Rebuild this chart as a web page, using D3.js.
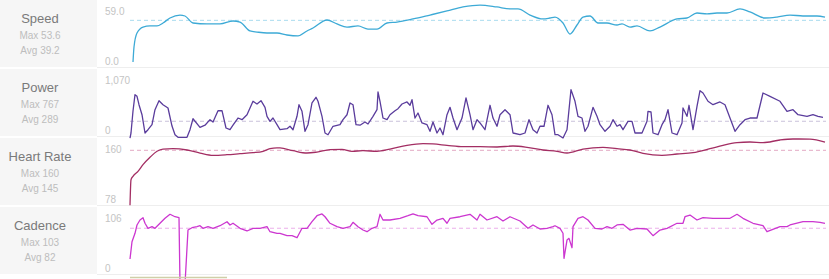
<!DOCTYPE html>
<html>
<head>
<meta charset="utf-8">
<script src="https://cdn.jsdelivr.net/npm/d3@7"></script>
<style>
  body { margin: 0; background: #fff; font-family: "Liberation Sans", Arial, sans-serif; }
  #chart { width: 829px; height: 279px; }
</style>
</head>
<body>
<div id="chart"></div>
<script>
// panel labels and summary stats
const metrics = ["Speed", "Power", "Heart Rate", "Cadence"];
const maxLabels = ["53.6", "767", "160", "103"];
const avgValues = [39.2, 289, 145, 82];
const tickTop = ["59.0", "1,070", "160", "106"];
const tickBottom = ["0.0", "0", "78", "0"];
const domains = [[0, 59], [0, 1070], [78, 160], [0, 106]];

// distance (km) / value readings
const speedDist = [0.3,0.4,0.7,1.3,2.0,2.7,3.3,4.0,5.0,5.5,6.3,7.7,9.0,10.3,11.0,12.0,12.7,13.7,14.7,15.7,16.8,17.7,18.3,19.7,20.7,21.7,22.8,23.8,24.7,25.7,26.7,28.3,30.0,31.7,33.3,35.0,36.7,38.0,38.8,40.0,41.3,42.0,42.5,43.3,44.0,44.7,45.3,46.0,46.8,47.7,48.7,49.2,50.0,50.7,52.0,53.0,54.7,55.7,56.7,57.7,58.7,59.7,61.0,62.0,63.5,64.7,66.0,67.3,68.7,69.5];
const speedVals = [0,14.1,27.3,32.9,33.9,33.9,36.7,41.4,44.2,43.3,36.7,35.8,35.8,38.6,37.6,29.2,28.2,27.3,27.3,25.4,24.5,29.2,32.0,39.5,35.8,32.9,33.9,31.0,31.0,36.7,37.6,40.5,44.2,48.0,51.8,53.6,51.8,50.0,50.0,44.2,40.5,41.4,42.3,36.7,26.3,34.8,42.3,43.3,36.7,36.7,34.8,35.8,32.9,33.9,29.2,32.9,40.5,41.4,46.1,45.2,46.1,46.1,49.9,47.1,41.4,42.3,44.2,43.3,43.3,42.3];

const powerDist = [0,0.1,0.3,0.5,0.7,0.9,1.2,1.5,1.8,2.2,2.5,2.9,3.3,3.8,4.2,4.5,4.8,5.7,6.0,6.3,7.0,7.5,8.0,8.3,8.8,9.2,9.6,10.0,10.3,10.8,11.2,11.7,12.0,12.3,12.7,13.1,13.5,13.7,14.0,14.3,14.7,15.0,15.7,16.0,16.3,16.7,16.9,17.2,17.5,17.8,18.2,18.6,18.8,19.2,19.5,19.8,20.3,21.0,21.3,21.7,22.0,22.3,22.6,23.0,23.5,23.8,24.3,24.7,24.8,25.0,25.3,25.7,26.0,26.5,26.8,27.2,27.7,28.0,28.2,28.5,28.8,29.2,29.7,30.0,30.3,30.7,31.0,31.3,31.7,32.0,32.3,32.7,33.2,33.6,34.0,34.3,34.7,35.0,35.5,36.0,36.3,36.7,37.0,37.5,38.0,38.3,39.0,39.5,39.9,40.3,40.7,41.0,41.4,41.8,42.2,42.5,42.8,43.3,43.7,44.1,44.5,44.8,45.2,45.5,45.8,46.3,46.7,47.0,47.5,48.0,48.3,48.7,49.0,49.3,49.8,50.2,50.5,51.2,51.7,51.8,52.1,52.3,52.8,53.2,53.5,53.8,54.2,54.7,55.2,55.3,55.7,55.9,56.3,56.7,57.0,57.3,57.8,58.3,59.0,59.5,60.0,60.5,61.0,61.5,62.0,62.7,63.3,64.0,65.0,65.7,66.3,66.8,67.7,68.3,68.8,69.3];
const powerVals = [25,104,451,708,682,550,392,104,156,235,471,613,550,498,214,77,36,36,156,329,194,227,314,277,455,455,183,156,227,340,314,392,498,604,561,613,509,367,288,340,235,156,172,210,156,367,550,446,131,235,577,667,604,367,104,77,210,235,314,392,577,550,235,227,277,246,367,471,750,604,340,314,392,455,487,561,593,541,629,340,419,262,235,131,277,104,183,77,392,509,340,156,340,656,392,156,314,262,156,541,340,210,392,471,392,104,77,104,314,156,104,210,210,541,392,77,77,25,156,787,604,367,340,131,210,509,367,235,131,210,314,210,235,156,288,288,104,104,288,446,435,104,77,235,314,471,104,77,262,498,367,541,156,525,770,734,604,550,593,550,340,131,235,314,340,340,734,682,604,446,471,392,367,392,367,351];

const hrDist = [0,0.1,0.3,0.8,1.3,2.0,2.7,3.3,4.3,5.7,7.0,8.3,9.7,11.0,12.3,13.3,14.0,14.7,15.0,16.3,17.7,18.7,20.0,21.2,22.2,23.3,24.7,26.0,27.7,29.3,30.3,31.7,33.3,35.0,36.7,38.3,39.7,41.3,42.7,43.7,45.3,47.3,48.7,50.0,51.3,53.2,54.7,56.3,58.0,59.3,60.7,62.0,63.3,65.0,66.3,68.0,69.5];
const hrVals = [72,106,110.5,117.1,125.9,135.7,143.7,146.7,147.1,145.4,141.4,138.4,139.2,140.5,141.8,143.7,147.1,148.1,148.1,144.5,141.4,142.7,145.8,146.3,143.7,144.5,143.7,146.7,151.6,153.8,153.4,151.6,149.8,149.8,149.4,150.7,149.0,145.4,143.7,141.4,146.7,149.0,147.1,145.4,141.0,138.4,140.1,141.8,147.1,151.6,155.1,156.0,155.1,158.7,160.0,159.8,156.0];

const cadDist = [0,0.2,0.5,0.7,1.0,1.3,1.5,1.8,2.2,2.5,3.0,3.5,4.0,4.5,4.9,5.0,5.5,5.8,6.2,6.7,7.0,7.3,7.8,8.3,9.0,9.7,10.0,10.3,11.0,11.7,12.3,13.0,13.7,14.0,14.7,15.0,15.7,16.2,16.7,17.2,17.7,18.2,18.7,19.2,19.5,20.0,20.7,21.3,22.0,22.3,22.8,23.3,23.7,24.2,24.7,25.0,25.3,26.0,27.0,27.8,28.3,28.8,29.7,30.2,30.7,31.3,31.7,32.0,33.0,34.0,34.7,35.0,35.7,36.7,37.3,38.0,39.0,39.8,40.3,41.0,41.7,42.3,42.5,43.0,43.3,43.4,43.7,43.9,44.2,44.3,44.8,45.3,45.8,46.5,47.2,47.7,48.2,48.7,49.3,50.0,50.7,51.7,52.3,53.0,53.7,54.7,55.3,55.5,56.0,56.7,57.3,58.3,59.3,60.0,60.7,61.3,62.3,63.3,63.7,65.0,65.7,66.0,67.3,68.3,69.0,69.5];
const cadVals = [36.8,62.2,74.6,86.8,94.1,97.5,89.3,81.9,84.3,81.9,89.3,96.6,102.5,98.9,97.5,0,0,79.4,82.8,84.3,85.7,81.9,84.3,81.9,85.7,91.6,86.8,89.3,81.9,78.0,81.9,81.9,84.3,76.9,74.6,74.6,71.1,71.1,68.1,81.9,81.9,91.6,100.4,103,98.9,89.3,84.3,81.9,84.3,90.7,84.3,79.4,76.9,81.9,84.3,102.5,94.1,94.1,96.6,100.4,103,100.4,98.9,87.8,94.1,96.6,89.3,96.6,98.9,102.5,94.1,102.5,94.1,98.9,92.6,98.9,92.6,81.9,86.8,80.9,81.9,84.3,85.7,81.9,74.6,37.9,64.7,67.2,53.4,84.3,96.6,98.9,94.1,81.9,80.9,84.3,81.9,86.8,87.8,79.4,81.9,80.9,71.1,79.4,81.9,89.3,89.3,98.9,101.4,94.1,97.5,96.6,96.6,96.6,102.5,96.6,89.3,85.7,76.9,84.3,84.3,86.8,91.6,91.6,90.7,89.3,94.1];

const selectionEnd = 9.7;

const seriesDist = [speedDist, powerDist, hrDist, cadDist];
const seriesVals = [speedVals, powerVals, hrVals, cadVals];

// layout / style
const lineColors = ["#3daad6", "#5a3c9c", "#a32e63", "#cc36d0"];
const avgColors = ["#a9dbee", "#c9c1da", "#e3a9c3", "#ebaeea"];
const curves = [d3.curveMonotoneX, d3.curveLinear, d3.curveMonotoneX, d3.curveLinear];
// pixel range of each panel's value scale, relative to row top [bottom, top]
const panelRange = [[62, -0.7], [70.6, 2.7], [62.8, 1.0], [77.1, 4.9]];

function renderActivity() {
  const container = d3.select("#chart");
  const width = 829, height = 279;
  const rowH = 69, sideW = 97;

  const svg = container.append("svg").attr("width", width).attr("height", height);

  const x = d3.scaleLinear().domain([0, 69.6]).range([130, 826]);

  metrics.forEach((name, i) => {
    const top = i * rowH;
    const g = svg.append("g").attr("transform", `translate(0,${top})`);

    g.append("rect")
      .attr("x", 0).attr("y", 0)
      .attr("width", sideW).attr("height", rowH - 2)
      .attr("fill", "#f6f6f6");

    g.append("line")
      .attr("x1", sideW).attr("x2", width)
      .attr("y1", rowH - 1.5).attr("y2", rowH - 1.5)
      .attr("stroke", "#eeeeee");

    g.append("text")
      .attr("x", 40).attr("y", 23)
      .attr("text-anchor", "middle")
      .attr("font-size", 13).attr("fill", "#7a7a7a")
      .text(name);
    g.append("text")
      .attr("x", 40).attr("y", 39)
      .attr("text-anchor", "middle")
      .attr("font-size", 10).attr("fill", "#bdbdbd")
      .text("Max " + maxLabels[i]);
    g.append("text")
      .attr("x", 40).attr("y", 54)
      .attr("text-anchor", "middle")
      .attr("font-size", 10).attr("fill", "#bdbdbd")
      .text("Avg " + avgValues[i]);

    g.append("text")
      .attr("x", 105).attr("y", 14.5)
      .attr("font-size", 10).attr("fill", "#c4c4c4")
      .text(tickTop[i]);
    g.append("text")
      .attr("x", 105).attr("y", 64.5)
      .attr("font-size", 10).attr("fill", "#c4c4c4")
      .text(tickBottom[i]);

    const y = d3.scaleLinear().domain(domains[i]).range(panelRange[i]);

    g.append("line")
      .attr("x1", x(0)).attr("x2", x(69.6))
      .attr("y1", y(avgValues[i])).attr("y2", y(avgValues[i]))
      .attr("stroke", avgColors[i])
      .attr("stroke-dasharray", "4,3");

    const pts = seriesDist[i].map((d, k) => [d, seriesVals[i][k]]);
    const line = d3.line()
      .x(d => x(d[0]))
      .y(d => y(d[1]))
      .curve(curves[i]);

    g.append("path")
      .datum(pts)
      .attr("fill", "none")
      .attr("stroke", lineColors[i])
      .attr("stroke-width", 1.3)
      .attr("stroke-linejoin", "round")
      .attr("d", line);
  });

  svg.append("line")
    .attr("x1", x(0)).attr("x2", x(selectionEnd))
    .attr("y1", 277.5).attr("y2", 277.5)
    .attr("stroke", "#cfcfa8")
    .attr("stroke-width", 1.5);
}

renderActivity();
</script>
</body>
</html>
